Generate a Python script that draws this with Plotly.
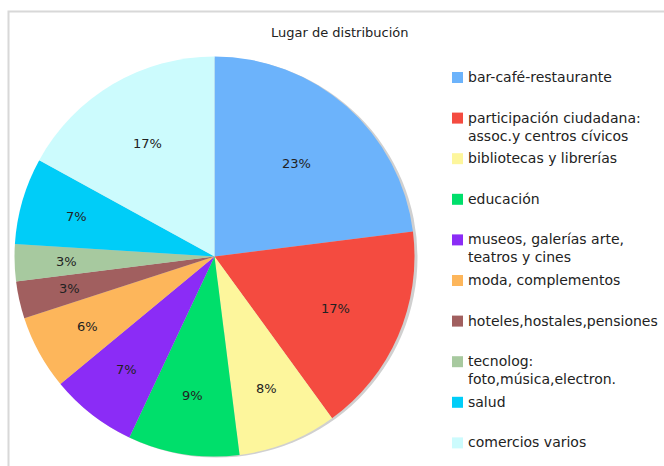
import math
import plotly.graph_objects as go

W, H = 664, 466

title = "Lugar de distribución"
categories = [
    "bar-café-restaurante",
    "participación ciudadana:<br>assoc.y centros cívicos",
    "bibliotecas y librerías",
    "educación",
    "museos, galerías arte,<br>teatros y cines",
    "moda, complementos",
    "hoteles,hostales,pensiones",
    "tecnolog:<br>foto,música,electron.",
    "salud",
    "comercios varios",
]
values = [23, 17, 8, 9, 7, 6, 3, 3, 7, 17]
colors = [
    "#6cb3fb", "#f44b40", "#fdf69c", "#00df6b", "#8b2cf6",
    "#fdb65b", "#a15f5f", "#a7c99f", "#00cdf8", "#ccfbfd",
]

FONT = "DejaVu Sans"
TXT = "#222222"


def px(x):
    return x / W


def py(y):
    return 1 - y / H


cx, cy, r = 214.5, 256.5, 200

fig = go.Figure(
    go.Pie(
        labels=categories,
        values=values,
        sort=False,
        direction="clockwise",
        rotation=0,
        marker=dict(colors=colors, line=dict(width=0)),
        textinfo="none",
        showlegend=False,
        hoverinfo="label+percent",
        domain=dict(x=[px(cx - r), px(cx + r)], y=[py(cy + r), py(cy - r)]),
    )
)

shapes = [
    # frame (only top and left edges fall inside the page)
    dict(type="rect", xref="paper", yref="paper",
         x0=px(8.5), x1=px(700), y0=py(500), y1=py(11.5),
         line=dict(color="#d8d8d8", width=2), layer="below"),
    # subtle pie shadow on the right
    dict(type="circle", xref="paper", yref="paper",
         x0=px(cx - r + 1), x1=px(cx + r + 3), y0=py(cy + r + 1), y1=py(cy - r + 1),
         fillcolor="#d0d0d0", line=dict(width=0), layer="below"),
]

annotations = [
    dict(text=title, x=px(339), y=py(33), xref="paper", yref="paper",
         xanchor="center", yanchor="middle", showarrow=False,
         font=dict(family=FONT, size=13, color=TXT)),
]

# percentage labels at each slice's mid-angle (derived from the values)
total = sum(values)
cum = 0.0
for v in values:
    mid = (cum + v / 2) / total * 2 * math.pi
    cum += v
    frac = 0.76 - 0.6 * v / total
    lx = cx + r * frac * math.sin(mid)
    ly = cy - r * frac * math.cos(mid)
    annotations.append(dict(text=f"{round(100 * v / total)}%", x=px(lx), y=py(ly),
                            xref="paper", yref="paper", xanchor="center", yanchor="middle",
                            showarrow=False, font=dict(family=FONT, size=13, color=TXT)))

# legend
leg_y0, leg_step = 77.5, 40.6
for i, (lab, col) in enumerate(zip(categories, colors)):
    yc = leg_y0 + i * leg_step
    shapes.append(dict(type="rect", xref="paper", yref="paper",
                       x0=px(452), x1=px(463), y0=py(yc + 5.5), y1=py(yc - 5.5),
                       fillcolor=col, line=dict(width=0)))
    annotations.append(dict(text=lab, x=px(466), y=py(yc - 10.5), xref="paper", yref="paper",
                            xanchor="left", yanchor="top", align="left", showarrow=False,
                            font=dict(family=FONT, size=14, color=TXT)))

fig.update_layout(
    width=W, height=H,
    margin=dict(l=0, r=0, t=0, b=0),
    paper_bgcolor="white",
    plot_bgcolor="white",
    shapes=shapes,
    annotations=annotations,
)

fig.write_html("out.html", config={"displayModeBar": False},
               post_script="document.body.style.margin='0';")
